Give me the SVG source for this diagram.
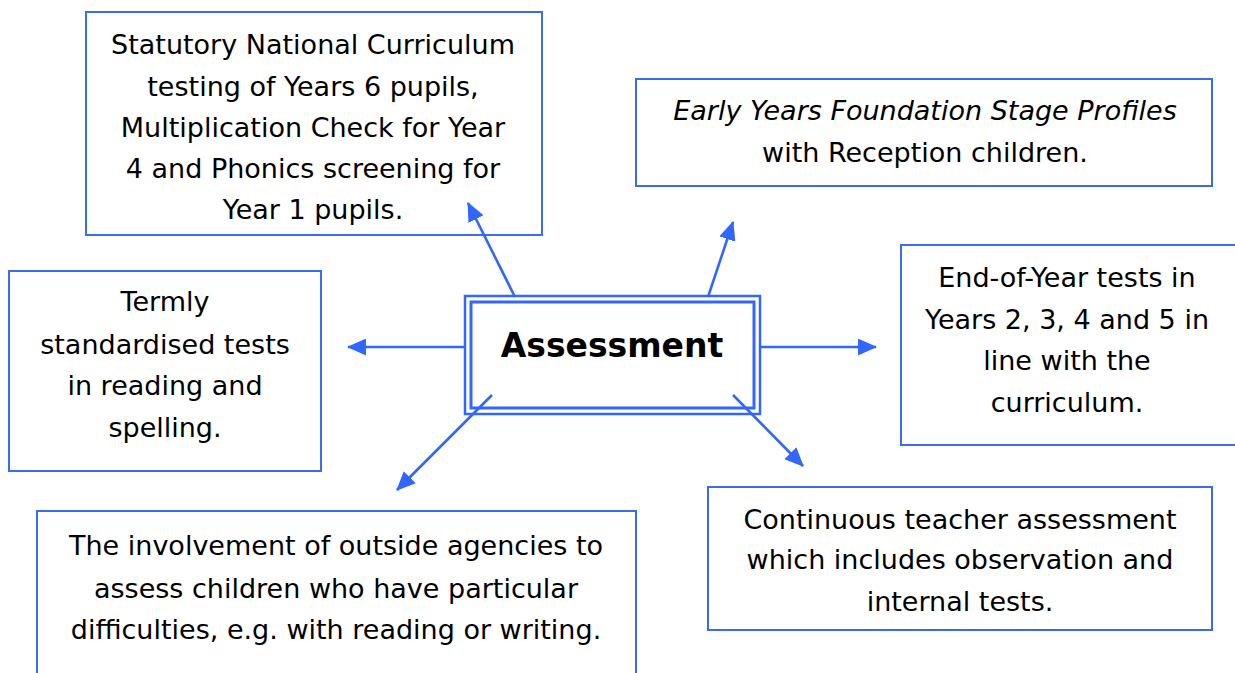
<svg xmlns="http://www.w3.org/2000/svg" width="1235" height="673" viewBox="0 0 1235 673">
<defs>
<style>
.box{fill:#fff;stroke:#3a6af8;stroke-width:2}
.t{font-family:"DejaVu Sans","Noto Sans",sans-serif;font-size:27px;fill:#000;text-anchor:middle}
.it{font-style:italic}
.title{font-family:"DejaVu Sans","Noto Sans",sans-serif;font-size:33px;font-weight:bold;fill:#000;text-anchor:middle}
.con{stroke:#3366ff;stroke-width:2.6;fill:none;marker-end:url(#ah)}
</style>
<marker id="ah" viewBox="0 0 19 17" refX="18" refY="8.5" markerWidth="19" markerHeight="17" orient="auto" markerUnits="userSpaceOnUse">
<path d="M0,0 L19,8.5 L0,17 Z" fill="#3366ff"/>
</marker>
</defs>
<rect width="1235" height="673" fill="#fff"/>

<g id="statutory">
<rect class="box" x="86" y="12" width="456" height="223"/>
<text class="t" x="313" y="54">Statutory National Curriculum</text>
<text class="t" x="313" y="96">testing of Years 6 pupils,</text>
<text class="t" x="313" y="137">Multiplication Check for Year</text>
<text class="t" x="313" y="178">4 and Phonics screening for</text>
<text class="t" x="313" y="219">Year 1 pupils.</text>
</g>

<g id="eyfs">
<rect class="box" x="636" y="79" width="576" height="107"/>
<text class="t it" x="925" y="120">Early Years Foundation Stage Profiles</text>
<text class="t" x="925" y="162">with Reception children.</text>
</g>

<g id="termly">
<rect class="box" x="9" y="271" width="312" height="200"/>
<text class="t" x="165" y="311">Termly</text>
<text class="t" x="165" y="354">standardised tests</text>
<text class="t" x="165" y="395">in reading and</text>
<text class="t" x="165" y="437">spelling.</text>
</g>

<g id="endofyear">
<rect class="box" x="901" y="245" width="345" height="200"/>
<text class="t" x="1067" y="287">End-of-Year tests in</text>
<text class="t" x="1067" y="329">Years 2, 3, 4 and 5 in</text>
<text class="t" x="1067" y="370">line with the</text>
<text class="t" x="1067" y="412">curriculum.</text>
</g>

<g id="continuous">
<rect class="box" x="708" y="487" width="504" height="143"/>
<text class="t" x="960" y="529">Continuous teacher assessment</text>
<text class="t" x="960" y="569">which includes observation and</text>
<text class="t" x="960" y="611">internal tests.</text>
</g>

<g id="agencies">
<rect class="box" x="37" y="511" width="599" height="180"/>
<text class="t" x="336" y="555">The involvement of outside agencies to</text>
<text class="t" x="336" y="598">assess children who have particular</text>
<text class="t" x="336" y="639">difficulties, e.g. with reading or writing.</text>
</g>

<g id="assessment">
<rect x="465" y="296" width="295" height="118" fill="#fff" stroke="#3366ff" stroke-width="2.5"/>
<rect x="471" y="302" width="283" height="106" fill="none" stroke="#3366ff" stroke-width="3"/>
<text class="title" x="612" y="357">Assessment</text>
</g>

<g id="connectors">
<line class="con" x1="515" y1="297" x2="468" y2="203"/>
<line class="con" x1="708" y1="297" x2="733" y2="222"/>
<line class="con" x1="466" y1="347" x2="348" y2="347"/>
<line class="con" x1="760" y1="347" x2="876" y2="347"/>
<line class="con" x1="492" y1="395" x2="397" y2="490"/>
<line class="con" x1="733" y1="395" x2="803" y2="466"/>
</g>
</svg>
